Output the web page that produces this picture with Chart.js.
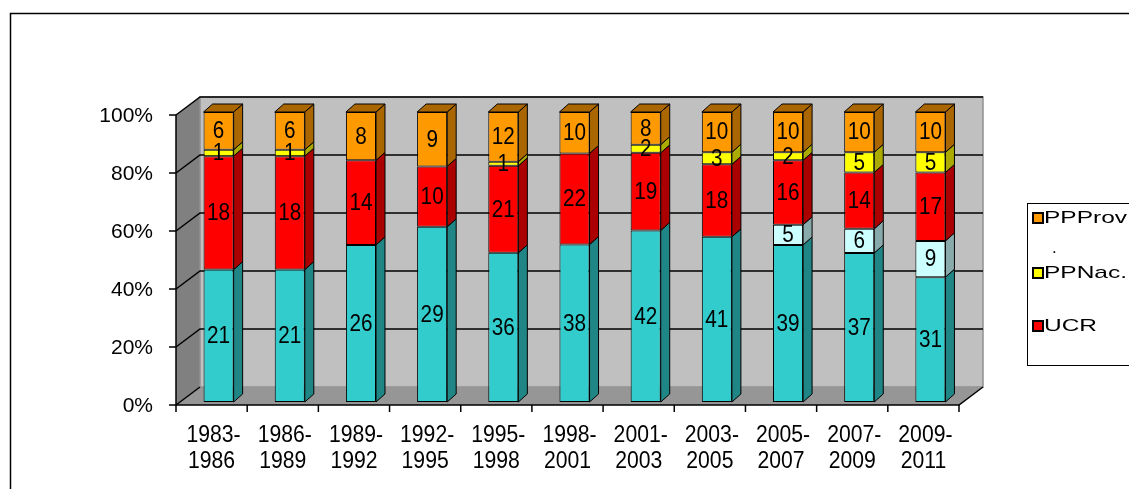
<!DOCTYPE html>
<html>
<head>
<meta charset="utf-8">
<script src="https://cdn.jsdelivr.net/npm/chart.js@4/dist/chart.umd.min.js"></script>
<style>
html,body{margin:0;padding:0;background:#fff;}
#wrap{width:1129px;height:489px;position:relative;}
</style>
</head>
<body>
<div id="wrap"><canvas id="c" width="1129" height="489"></canvas></div>
<script>
// ---- data ----
const categories = [['1983-','1986'],['1986-','1989'],['1989-','1992'],['1992-','1995'],['1995-','1998'],['1998-','2001'],['2001-','2003'],['2003-','2005'],['2005-','2007'],['2007-','2009'],['2009-','2011']];
const seriesPJ     = [21,21,26,29,36,38,42,41,39,37,31];
const seriesOtros  = [0,0,0,0,0,0,0,0,5,6,9];
const seriesUCR    = [18,18,14,10,21,22,19,18,16,14,17];
const seriesPPNac  = [1,1,0,0,1,0,2,3,2,5,5];
const seriesPPProv = [6,6,8,9,12,10,8,10,10,10,10];
const yTickValues  = [0,20,40,60,80,100];
const yTickLabels  = ['0%','20%','40%','60%','80%','100%'];
const legendNames  = ['PPProv','PPNac.','UCR'];

const raw = [seriesPJ, seriesOtros, seriesUCR, seriesPPNac, seriesPPProv];
const totals = categories.map((_, i) => raw.reduce((s, a) => s + a[i], 0));
const pct = arr => arr.map((v, i) => v / totals[i] * 100);

const front = ['#33CCCC', '#CCFFFF', '#FF0000', '#FFFF00', '#FF9900'];
const side  = ['#208585', '#88AAAA', '#AA0000', '#AAAA00', '#AA6600'];
const names = ['PJ', 'Otros', 'UCR', 'PPNac.', 'PPProv'];

const G = {dx: 24, dy: -18, bx: 7, by: -3, sx: 9, sy: -8};
const FONT = '"Liberation Sans", Arial, sans-serif';

function txt(ctx, t, x, y, sx) {
  ctx.save();
  ctx.translate(x, y);
  ctx.scale(sx, 1);
  ctx.fillText(t, 0, 0);
  ctx.restore();
}

const threeD = {
  id: 'threeD',
  beforeDraw(chart) {
    const ctx = chart.ctx, xs = chart.scales.x, ys = chart.scales.y;
    const L = xs.left, R = xs.right, T = ys.getPixelForValue(100), B = ys.getPixelForValue(0);
    ctx.save();
    ctx.fillStyle = '#fff';
    ctx.fillRect(0, 0, chart.width, chart.height);
    // outer frame
    ctx.strokeStyle = '#000'; ctx.lineWidth = 1.5;
    ctx.beginPath(); ctx.moveTo(10.5, 489); ctx.lineTo(10.5, 13.5); ctx.lineTo(1129, 13.5); ctx.stroke();
    // side wall
    ctx.fillStyle = '#808080';
    ctx.beginPath(); ctx.moveTo(L, T); ctx.lineTo(L + G.dx, T + G.dy); ctx.lineTo(L + G.dx, B + G.dy); ctx.lineTo(L, B); ctx.closePath(); ctx.fill();
    // back wall
    ctx.fillStyle = '#C0C0C0';
    ctx.fillRect(L + G.dx, T + G.dy, R - L, B - T);
    ctx.strokeStyle = '#909090'; ctx.lineWidth = 1.5;
    ctx.strokeRect(L + G.dx, T + G.dy, R - L, B - T);
    // floor
    ctx.fillStyle = '#969696';
    ctx.beginPath(); ctx.moveTo(L, B); ctx.lineTo(L + G.dx, B + G.dy); ctx.lineTo(R + G.dx, B + G.dy); ctx.lineTo(R, B); ctx.closePath(); ctx.fill();
    // gridlines
    ctx.strokeStyle = '#000'; ctx.lineWidth = 1.5;
    yTickValues.forEach(v => {
      const y = ys.getPixelForValue(v);
      ctx.beginPath(); ctx.moveTo(L, y); ctx.lineTo(L + G.dx, y + G.dy);
      if (v > 0) ctx.lineTo(R + G.dx, y + G.dy);
      ctx.stroke();
    });
    ctx.restore();
  },
  beforeDatasetsDraw(chart) {
    chart.ctx.save();
    chart.ctx.translate(G.bx, G.by);
  },
  afterDatasetsDraw(chart) {
    const ctx = chart.ctx;
    const n = categories.length;
    for (let i = 0; i < n; i++) {
      let topEl = null;
      chart.data.datasets.forEach((ds, d) => {
        if (!raw[d][i]) return;
        const el = chart.getDatasetMeta(d).data[i];
        const p = el.getProps(['x', 'y', 'base', 'width'], true);
        const r = p.x + p.width / 2;
        ctx.fillStyle = side[d]; ctx.strokeStyle = '#000'; ctx.lineWidth = 1;
        ctx.beginPath();
        ctx.moveTo(r, p.y); ctx.lineTo(r + G.sx, p.y + G.sy); ctx.lineTo(r + G.sx, p.base + G.sy); ctx.lineTo(r, p.base); ctx.closePath();
        ctx.fill(); ctx.stroke();
        topEl = {p, d};
      });
      if (topEl) {
        const p = topEl.p, l = p.x - p.width / 2, r = p.x + p.width / 2;
        ctx.fillStyle = side[topEl.d];
        ctx.beginPath();
        ctx.moveTo(l, p.y); ctx.lineTo(l + G.sx, p.y + G.sy); ctx.lineTo(r + G.sx, p.y + G.sy); ctx.lineTo(r, p.y); ctx.closePath();
        ctx.fill(); ctx.stroke();
      }
    }
    // value labels
    ctx.fillStyle = '#000';
    ctx.font = '23px ' + FONT;
    ctx.textAlign = 'center'; ctx.textBaseline = 'middle';
    chart.data.datasets.forEach((ds, d) => {
      chart.getDatasetMeta(d).data.forEach((el, i) => {
        if (!raw[d][i]) return;
        const p = el.getProps(['x', 'y', 'base'], true);
        txt(ctx, String(raw[d][i]), p.x, (p.y + p.base) / 2 + 1, 0.9);
      });
    });
    ctx.restore();
  },
  afterDraw(chart) {
    const ctx = chart.ctx, xs = chart.scales.x, ys = chart.scales.y;
    const L = xs.left, R = xs.right, T = ys.getPixelForValue(100), B = ys.getPixelForValue(0);
    ctx.save();
    ctx.strokeStyle = '#000'; ctx.lineWidth = 1.5;
    // front axis lines
    ctx.beginPath(); ctx.moveTo(L, T); ctx.lineTo(L, B); ctx.lineTo(R, B); ctx.lineTo(R + G.dx, B + G.dy); ctx.stroke();
    // y ticks
    yTickValues.forEach(v => {
      const y = ys.getPixelForValue(v);
      ctx.beginPath(); ctx.moveTo(L - 7, y); ctx.lineTo(L, y); ctx.stroke();
    });
    // x ticks
    const step = (R - L) / categories.length;
    for (let i = 0; i <= categories.length; i++) {
      const x = L + i * step;
      ctx.beginPath(); ctx.moveTo(x, B); ctx.lineTo(x, B + 7); ctx.stroke();
    }
    ctx.fillStyle = '#000';
    ctx.font = '21px ' + FONT;
    ctx.textAlign = 'right'; ctx.textBaseline = 'middle';
    yTickValues.forEach((v, k) => ctx.fillText(yTickLabels[k], L - 23, ys.getPixelForValue(v) + 1));
    ctx.textAlign = 'center';
    ctx.font = '23px ' + FONT;
    categories.forEach((c, i) => {
      const x = xs.getPixelForValue(i);
      txt(ctx, c[0], x + 2, B + 31, 0.92);
      txt(ctx, c[1], x, B + 57, 0.92);
    });
    // legend
    ctx.lineWidth = 1;
    ctx.strokeRect(1027.5, 203.5, 200, 162);
    const items = [[legendNames[0], 4, 218], [legendNames[1], 3, 273], [legendNames[2], 2, 326]];
    ctx.font = '17px ' + FONT; ctx.textAlign = 'left';
    items.forEach(([t, d, y]) => {
      ctx.fillStyle = front[d];
      ctx.fillRect(1033, y - 5, 10, 10);
      ctx.lineWidth = 2; ctx.strokeStyle = '#000';
      ctx.strokeRect(1033, y - 5, 10, 10);
      ctx.fillStyle = '#000';
      txt(ctx, t, 1044, y, 1.44);
    });
    ctx.textBaseline = 'alphabetic';
    ctx.fillText('.', 1052, 253);
    ctx.restore();
  }
};

new Chart(document.getElementById('c'), {
  type: 'bar',
  data: {
    labels: categories,
    datasets: raw.map((arr, d) => ({
      label: names[d],
      data: pct(arr),
      backgroundColor: front[d],
      borderColor: '#000',
      borderWidth: 1,
      borderSkipped: false,
      categoryPercentage: 1,
      barPercentage: 0.4225,
      clip: false
    }))
  },
  options: {
    responsive: false,
    animation: false,
    events: [],
    layout: {padding: {left: 176, right: 170, top: 115, bottom: 84}},
    plugins: {legend: {display: false}, tooltip: {enabled: false}},
    scales: {
      x: {stacked: true, display: false},
      y: {stacked: true, display: false, min: 0, max: 100}
    }
  },
  plugins: [threeD]
});
</script>
</body>
</html>
